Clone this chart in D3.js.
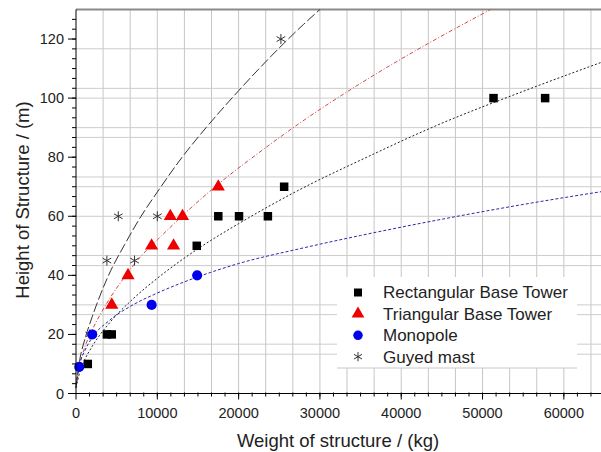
<!DOCTYPE html>
<html>
<head>
<meta charset="utf-8">
<script src="https://cdn.jsdelivr.net/npm/d3@7"></script>
<style>
  body { margin: 0; background: #fff; }
  svg { display: block; font-family: "Liberation Sans", Arial, sans-serif; }
</style>
</head>
<body>
<div id="chart"></div>
<script>
// measured points [weight kg, height m]
const rectTower = [[1450, 10], [3800, 20], [4400, 20], [14850, 50], [17500, 60], [20050, 60],
  [23600, 60], [25600, 70], [51350, 100], [57700, 100]];
const triTower = [[4400, 30], [6400, 40], [9300, 50], [12000, 50], [11600, 60], [13100, 60], [17500, 70]];
const monopole = [[400, 9], [2000, 20], [9300, 30], [14900, 40]];
const guyedMast = [[1700, 20], [3800, 45], [5200, 60], [7200, 45], [10000, 60], [25200, 120]];

// fitted curves
const rectFit = [[0, 2], [500, 7.5], [1000, 11], [2000, 16], [4000, 23.5], [7000, 32], [10000, 39],
  [15000, 49], [20000, 57.5], [27500, 69], [35000, 79], [45000, 91.5], [55000, 102.3], [65000, 112.5]];
const triFit = [[0, 2], [500, 10], [1000, 15], [2000, 21.5], [4000, 31.5], [6000, 39.5], [8000, 46.5],
  [10000, 52], [14000, 62.5], [18000, 72], [22000, 80.5], [27500, 91.5], [35000, 105], [43000, 118], [51000, 130]];
const monoFit = [[0, 3], [500, 10.5], [1000, 14], [2000, 19], [4000, 24.5], [7000, 30], [10000, 34],
  [15000, 39.5], [20000, 44], [27500, 49], [35000, 53.5], [45000, 59], [55000, 64], [65000, 68.5]];
const guyedFit = [[0, 2], [500, 12], [1000, 17.5], [2000, 26], [4000, 40], [6000, 50.5], [8000, 60],
  [10000, 68.2], [13000, 79.8], [16000, 90], [20000, 102.5], [24000, 114.2], [28000, 125], [30000, 130]];

const legendNames = ['Rectangular Base Tower', 'Triangular Base Tower', 'Monopole', 'Guyed mast'];
const xTicks = [0, 10000, 20000, 30000, 40000, 50000, 60000];
const yTicks = [0, 20, 40, 60, 80, 100, 120];
const yGridLines = [13.3, 16.7, 26.7, 30, 43.3, 46.7, 60, 70, 73.3, 86.7, 90, 100, 103.3, 116.7];

const W = 601, H = 452;
const svg = d3.select('#chart').append('svg').attr('width', W).attr('height', H);

const x = d3.scaleLinear().domain([0, 65000]).range([76, 604.5]);
const y = d3.scaleLinear().domain([0, 130]).range([393.5, 9.5]);

// grid
const xGrid = d3.range(1, 20).map(i => i * 10000 / 3);
svg.append('g').selectAll('line').data(xGrid).join('line')
  .attr('x1', d => x(d)).attr('x2', d => x(d))
  .attr('y1', y(0)).attr('y2', y(130))
  .attr('stroke', '#c6c6c6').attr('stroke-width', 1);
svg.append('g').selectAll('line').data(yGridLines).join('line')
  .attr('x1', x(0)).attr('x2', W)
  .attr('y1', d => y(d)).attr('y2', d => y(d))
  .attr('stroke', '#cccccc').attr('stroke-width', 1);

// top frame
svg.append('line').attr('x1', x(0)).attr('x2', W).attr('y1', y(130)).attr('y2', y(130))
  .attr('stroke', '#8a8a8a').attr('stroke-width', 2);

// fit curves
const line = d3.line().x(d => x(d[0])).y(d => y(d[1])).curve(d3.curveMonotoneX);
const fits = [
  { data: rectFit, color: '#222', dash: '2,2' },
  { data: triFit, color: '#d04a4a', dash: '4,2,1,2' },
  { data: monoFit, color: '#2a2aa8', dash: '3,2' },
  { data: guyedFit, color: '#333', dash: '10,3' }
];
svg.append('g').selectAll('path').data(fits).join('path')
  .attr('d', d => line(d.data))
  .attr('fill', 'none')
  .attr('stroke', d => d.color)
  .attr('stroke-width', 1)
  .attr('stroke-dasharray', d => d.dash);

// markers
const sq = d3.symbol().type(d3.symbolSquare).size(72);
const tri = d3.symbol().type(d3.symbolTriangle).size(75);
const circ = d3.symbol().type(d3.symbolCircle).size(80);
const ast = d3.symbol().type(d3.symbolAsterisk).size(70);

function drawPoints(data, sym, fill, stroke) {
  svg.append('g').selectAll('path').data(data).join('path')
    .attr('transform', d => `translate(${x(d[0])},${y(d[1])})`)
    .attr('d', sym)
    .attr('fill', fill)
    .attr('stroke', stroke)
    .attr('stroke-width', 1);
}
drawPoints(guyedMast, ast, 'none', '#333');
drawPoints(rectTower, sq, '#000', 'none');
drawPoints(triTower, tri, '#ee0000', 'none');
drawPoints(monopole, circ, '#0000ee', 'none');

// axes
const xAxis = svg.append('g').attr('transform', `translate(0,${y(0)})`);
xAxis.append('line').attr('x1', x(0)).attr('x2', W).attr('stroke', '#000');
xAxis.selectAll('.minor').data(d3.range(1, 40).map(i => i * 10000 / 6)).join('line')
  .attr('x1', d => x(d)).attr('x2', d => x(d)).attr('y1', -1).attr('y2', 3)
  .attr('stroke', '#000');
xAxis.selectAll('.major').data(xTicks).join('line')
  .attr('x1', d => x(d)).attr('x2', d => x(d)).attr('y1', 0).attr('y2', 6)
  .attr('stroke', '#000');
xAxis.selectAll('text').data(xTicks).join('text')
  .attr('x', d => x(d)).attr('y', 24)
  .attr('text-anchor', 'middle').attr('font-size', 14.5).attr('fill', '#222')
  .text(d => d);

const yAxis = svg.append('g').attr('transform', `translate(${x(0)},0)`);
yAxis.append('line').attr('y1', y(0)).attr('y2', y(130)).attr('stroke', '#000');
yAxis.selectAll('.minor').data(d3.range(1, 39).map(i => i * 20 / 6)).join('line')
  .attr('y1', d => y(d)).attr('y2', d => y(d)).attr('x1', -4).attr('x2', 0)
  .attr('stroke', '#000');
yAxis.selectAll('.major').data(yTicks).join('line')
  .attr('y1', d => y(d)).attr('y2', d => y(d)).attr('x1', -8).attr('x2', 0)
  .attr('stroke', '#000');
yAxis.selectAll('text').data(yTicks).join('text')
  .attr('x', -12).attr('y', d => y(d)).attr('dy', '0.35em')
  .attr('text-anchor', 'end').attr('font-size', 14.5).attr('fill', '#222')
  .text(d => d);

// titles
svg.append('text').attr('x', 338).attr('y', 447).attr('text-anchor', 'middle')
  .attr('font-size', 18.5).attr('fill', '#222').text('Weight of structure / (kg)');
svg.append('text').attr('transform', 'translate(29,200) rotate(-90)').attr('text-anchor', 'middle')
  .attr('font-size', 18.5).attr('fill', '#222').text('Height of Structure / (m)');

// legend
const lg = svg.append('g');
lg.append('rect').attr('x', 337).attr('y', 277).attr('width', 240).attr('height', 91).attr('fill', '#fff');
lg.append('line').attr('x1', 337).attr('x2', 577).attr('y1', 368).attr('y2', 368)
  .attr('stroke', '#c8c8c8');
const legSyms = [
  { sym: d3.symbol().type(d3.symbolSquare).size(64)(), fill: '#000', stroke: 'none' },
  { sym: d3.symbol().type(d3.symbolTriangle).size(70)(), fill: '#ee0000', stroke: 'none' },
  { sym: d3.symbol().type(d3.symbolCircle).size(70)(), fill: '#0000ee', stroke: 'none' },
  { sym: d3.symbol().type(d3.symbolAsterisk).size(60)(), fill: 'none', stroke: '#333' }
];
const rows = lg.selectAll('.row').data(legendNames).join('g')
  .attr('transform', (d, i) => `translate(358,${292.5 + i * 21.4})`);
rows.append('path').attr('d', (d, i) => legSyms[i].sym)
  .attr('fill', (d, i) => legSyms[i].fill).attr('stroke', (d, i) => legSyms[i].stroke);
rows.append('text').attr('x', 25).attr('dy', '0.35em').attr('font-size', 17).attr('fill', '#222')
  .text(d => d);
</script>
</body>
</html>
